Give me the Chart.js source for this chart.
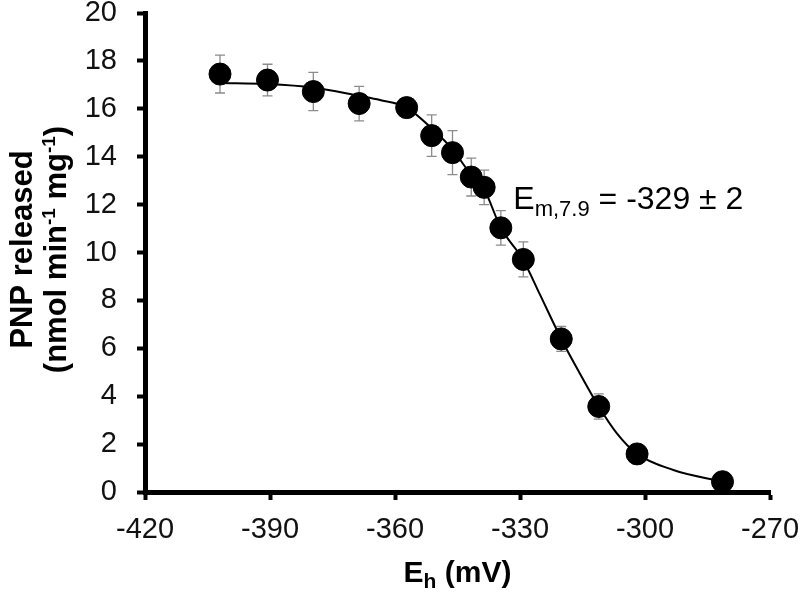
<!DOCTYPE html>
<html>
<head>
<meta charset="utf-8">
<script src="https://cdn.jsdelivr.net/npm/chart.js@4.4.1/dist/chart.umd.min.js"></script>
<style>
  html, body { margin: 0; padding: 0; background: #fff; }
  #chart { display: block; }
</style>
</head>
<body>
<canvas id="chart" width="800" height="596"></canvas>
<script>
// --- datos ---
const ehValues  = [-402, -390.6, -379.6, -368.6, -357.2, -351.2, -346.2, -341.7, -338.6, -334.6, -329.2, -320.1, -311.1, -301.9, -281.4];
const pnpValues = [17.45, 17.2, 16.72, 16.22, 16.05, 14.88, 14.17, 13.15, 12.72, 11.03, 9.71, 6.39, 3.57, 1.59, 0.43];
const pnpErrors = [0.79, 0.66, 0.8, 0.72, 0.3, 0.87, 0.92, 0.79, 0.72, 0.72, 0.73, 0.52, 0.53, 0.2, 0.1];

// curva ajustada (leída punto a punto)
const fitEh  = [-402, -390.6, -379.6, -368.6, -363.6, -357.2, -351.2, -346.2, -342.4, -338.6, -334.6, -329.2, -325.2, -320.1, -315.6, -311.1, -306.8, -301.9, -293.2, -281.4];
const fitPnp = [17.08, 17.04, 16.89, 16.54, 16.37, 16.05, 15.18, 14.31, 13.4, 12.64, 11.03, 9.68, 8.24, 6.39, 4.94, 3.57, 2.46, 1.59, 0.92, 0.43];

const xTicks = [-420, -390, -360, -330, -300, -270];
const yTicks = [0, 2, 4, 6, 8, 10, 12, 14, 16, 18, 20];

const FONT = "'Liberation Sans', Arial, sans-serif";

// dibuja texto con subíndices / superíndices
function drawRich(ctx, segs, x, y, align) {
  let total = 0;
  segs.forEach(s => {
    ctx.font = (s.bold ? 'bold ' : '') + s.size + 'px ' + FONT;
    s.w = ctx.measureText(s.text).width;
    total += s.w;
  });
  let cx = align === 'center' ? x - total / 2 : x;
  segs.forEach(s => {
    ctx.font = (s.bold ? 'bold ' : '') + s.size + 'px ' + FONT;
    ctx.fillText(s.text, cx, y + (s.dy || 0));
    cx += s.w;
  });
}

const errorBars = {
  id: 'errorBars',
  beforeDatasetsDraw(chart) {
    const ctx = chart.ctx;
    const xs = chart.scales.x, ys = chart.scales.y;
    ctx.save();
    ctx.strokeStyle = '#8c8c8c';
    ctx.lineWidth = 1.3;
    ehValues.forEach((e, i) => {
      const px = xs.getPixelForValue(e);
      const top = ys.getPixelForValue(pnpValues[i] + pnpErrors[i]);
      const bot = ys.getPixelForValue(pnpValues[i] - pnpErrors[i]);
      ctx.beginPath();
      ctx.moveTo(px, top); ctx.lineTo(px, bot);
      ctx.moveTo(px - 5, top); ctx.lineTo(px + 5, top);
      ctx.moveTo(px - 5, bot); ctx.lineTo(px + 5, bot);
      ctx.stroke();
    });
    ctx.restore();
  }
};

const textos = {
  id: 'textos',
  afterDraw(chart) {
    const ctx = chart.ctx;
    const area = chart.chartArea;
    const xs = chart.scales.x, ys = chart.scales.y;
    ctx.save();
    ctx.fillStyle = '#000';
    ctx.textBaseline = 'alphabetic';
    ctx.textAlign = 'left';

    // anotación Em
    drawRich(ctx, [
      { text: 'E', size: 32 },
      { text: 'm,7.9', size: 22, dy: 7 },
      { text: ' = -329 ± 2', size: 32 }
    ], xs.getPixelForValue(-331.6), ys.getPixelForValue(11.8), 'left');

    // título eje x
    drawRich(ctx, [
      { text: 'E', size: 30, bold: true },
      { text: 'h', size: 21, bold: true, dy: 6 },
      { text: ' (mV)', size: 30, bold: true }
    ], (area.left + area.right) / 2, 582, 'center');

    // título eje y (rotado)
    const cy = (area.top + area.bottom) / 2 - 3;
    ctx.translate(0, cy);
    ctx.rotate(-Math.PI / 2);
    drawRich(ctx, [{ text: 'PNP released', size: 31, bold: true }], 0, 32, 'center');
    drawRich(ctx, [
      { text: '(nmol min', size: 31, bold: true },
      { text: '-1', size: 19, bold: true, dy: -11 },
      { text: ' mg', size: 31, bold: true },
      { text: '-1', size: 19, bold: true, dy: -11 },
      { text: ')', size: 31, bold: true }
    ], 0, 66, 'center');
    ctx.restore();
  }
};

new Chart(document.getElementById('chart'), {
  type: 'scatter',
  data: {
    datasets: [
      {
        label: 'ajuste',
        data: fitEh.map((e, i) => ({ x: e, y: fitPnp[i] })),
        showLine: true,
        borderColor: '#000',
        borderWidth: 2,
        pointRadius: 0,
        cubicInterpolationMode: 'monotone',
        order: 2
      },
      {
        label: 'PNP',
        data: ehValues.map((e, i) => ({ x: e, y: pnpValues[i] })),
        backgroundColor: '#000',
        borderColor: '#000',
        pointRadius: 11,
        order: 1
      }
    ]
  },
  options: {
    responsive: false,
    animation: false,
    layout: { padding: { left: 0, right: 30, top: 13, bottom: 0 } },
    plugins: { legend: { display: false }, tooltip: { enabled: false } },
    scales: {
      x: {
        type: 'linear',
        min: -420, max: -270,
        afterBuildTicks: s => { s.ticks = xTicks.map(v => ({ value: v })); },
        afterFit: s => { s.height = 104; s.paddingLeft = 0; s.paddingRight = 0; },
        border: { color: '#000', width: 5 },
        grid: { drawOnChartArea: false, tickLength: 8, tickWidth: 4, tickColor: '#000' },
        ticks: { color: '#111', padding: 13, maxRotation: 0, font: { family: FONT, size: 29 } }
      },
      y: {
        min: 0, max: 20,
        afterBuildTicks: s => { s.ticks = yTicks.map(v => ({ value: v })); },
        afterFit: s => { s.width = 145; s.paddingTop = 0; s.paddingBottom = 0; },
        border: { color: '#000', width: 5 },
        grid: { drawOnChartArea: false, tickLength: 8, tickWidth: 4, tickColor: '#000' },
        ticks: { color: '#111', padding: 20, font: { family: FONT, size: 29 } }
      }
    }
  },
  plugins: [errorBars, textos]
});
</script>
</body>
</html>
